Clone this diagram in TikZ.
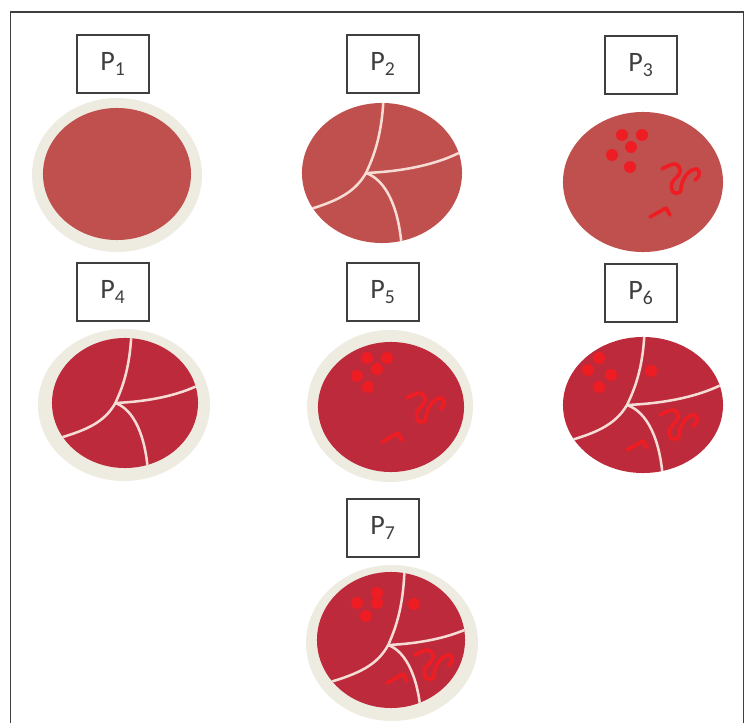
\documentclass[tikz,border=0pt]{standalone}
\usepackage{fontspec}
\setmainfont{Carlito}
\usetikzlibrary{shapes.geometric}
\usepackage{xcolor}
\definecolor{plainagar}{HTML}{C0504D}
\definecolor{bloodagar}{HTML}{BD2A3B}
\definecolor{dishrim}{HTML}{EEECE1}
\definecolor{colonyred}{HTML}{EE1D23}
\definecolor{crackline}{HTML}{F5DCD5}
\definecolor{tagink}{HTML}{3F3F3F}
\tikzset{
  tag/.style    = {draw=tagink, fill=white, line width=1.3pt, minimum width=1.8cm,
                   minimum height=1.45cm, inner sep=0pt, text=tagink,
                   font=\fontsize{20}{22}\selectfont},
  rim/.style    = {ellipse, fill=dishrim, inner sep=0pt, outer sep=0pt},
  agar/.style   = {ellipse, inner sep=0pt, outer sep=0pt},
  crack/.style  = {draw=crackline, line width=1.8pt},
  streak/.style = {draw=colonyred, line width=2.6pt, line cap=round, line join=round}
}
% cracked surface, clipped to the agar: centre, radii, shift of the junction
\newcommand{\cracks}[6]{%
  \begin{scope}
    \clip (#1,#2) ellipse [x radius=#3, y radius=#4];
    \begin{scope}[shift={(#1+#5,#2+#6)}, xscale=#3, yscale=#4]
      \draw[crack] (0.02,-1.1) .. controls (0,-0.5) and (-0.12,-0.2) .. (-0.2,0)
        .. controls (-0.35,0.3) and (-0.6,0.42) .. (-1.0,0.55);
      \draw[crack] (-0.2,0) .. controls (0.2,-0.02) and (0.7,-0.1) .. (1.08,-0.36);
      \draw[crack] (-0.2,0) .. controls (0.05,0.1) and (0.22,0.5) .. (0.25,1.12);
    \end{scope}
  \end{scope}
}
\newcommand{\colonies}[3]{%
  \foreach \dx/\dy in {#3} \fill[colonyred] (#1+\dx,#2+\dy) circle [radius=6];
}
\newcommand{\curl}[2]{%
  \draw[streak, shift={(#1,#2)}] plot[smooth, tension=0.7] coordinates
    {(0,0) (13,-5) (18,3) (10,14) (11,23) (18,23) (20,14) (26,4) (35,0) (37,6) (33,11)};
}
\newcommand{\barb}[2]{%
  \draw[streak, shift={(#1,#2)}] (0,0) -- (16,-9) -- (20,-2);
}

\begin{document}
\begin{tikzpicture}[x=0.025cm, y=-0.025cm]
\useasboundingbox (0,0) rectangle (746,723);
% outer frame, open below the page edge
\draw[tagink, line width=1.1pt] (10.5,760) -- (10.5,12) -- (743.5,12) -- (743.5,760);

% plates: rim ellipse, then agar
\foreach \cx/\cy/\rx/\ry/\k in {117/175/85/77/1, 124/405/86/76/4, 390/406/83/76/5, 392/643/86/78/7}
  \node[rim, minimum width=0.05cm*\rx, minimum height=0.05cm*\ry] (r\k) at (\cx,\cy) {};
\foreach \cx/\cy/\rx/\ry/\k/\col in {%
  117/174/74/66/1/plainagar, 382/173/80/70/2/plainagar, 643/182/80/70/3/plainagar,
  125/403/73/65/4/bloodagar, 391/407/73/65/5/bloodagar, 643/405/80/68/6/bloodagar,
  391/640/74/68/7/bloodagar}
  \node[agar, fill=\col, minimum width=0.05cm*\rx, minimum height=0.05cm*\ry] (d\k) at (\cx,\cy) {};

% cracks
\cracks{382}{173}{80}{70}{0}{0}
\cracks{125}{403}{73}{65}{5}{0}
\cracks{643}{405}{80}{68}{0}{0}
\cracks{391}{640}{74}{68}{12}{5}

% colonies and streaks
\colonies{643}{182}{-21/-47, -1/-47, -12/-35, -31/-27, -13/-15}
\colonies{391}{407}{-24/-49, -4/-49, -14/-38, -34/-31, -23/-20}
\colonies{643}{405}{-44/-47, -55/-35, -32/-30, -44/-18, 8/-34}
\colonies{391}{640}{-34/-37, -14/-47, -14/-37, -25/-24, 23/-36}
\curl{662}{169} \barb{650}{217}
\curl{407}{398} \barb{382}{442}
\curl{660}{415} \barb{627}{450}
\curl{415}{655} \barb{387}{683}

% labels
\foreach \cx/\cy/\k in {113/64/1, 383/64/2, 641/65/3, 113/292/4, 383/292/5, 641/293/6, 383/528/7}
  \node[tag] (p\k) at (\cx,\cy) {P\textsubscript{\k}};
\end{tikzpicture}
\end{document}
